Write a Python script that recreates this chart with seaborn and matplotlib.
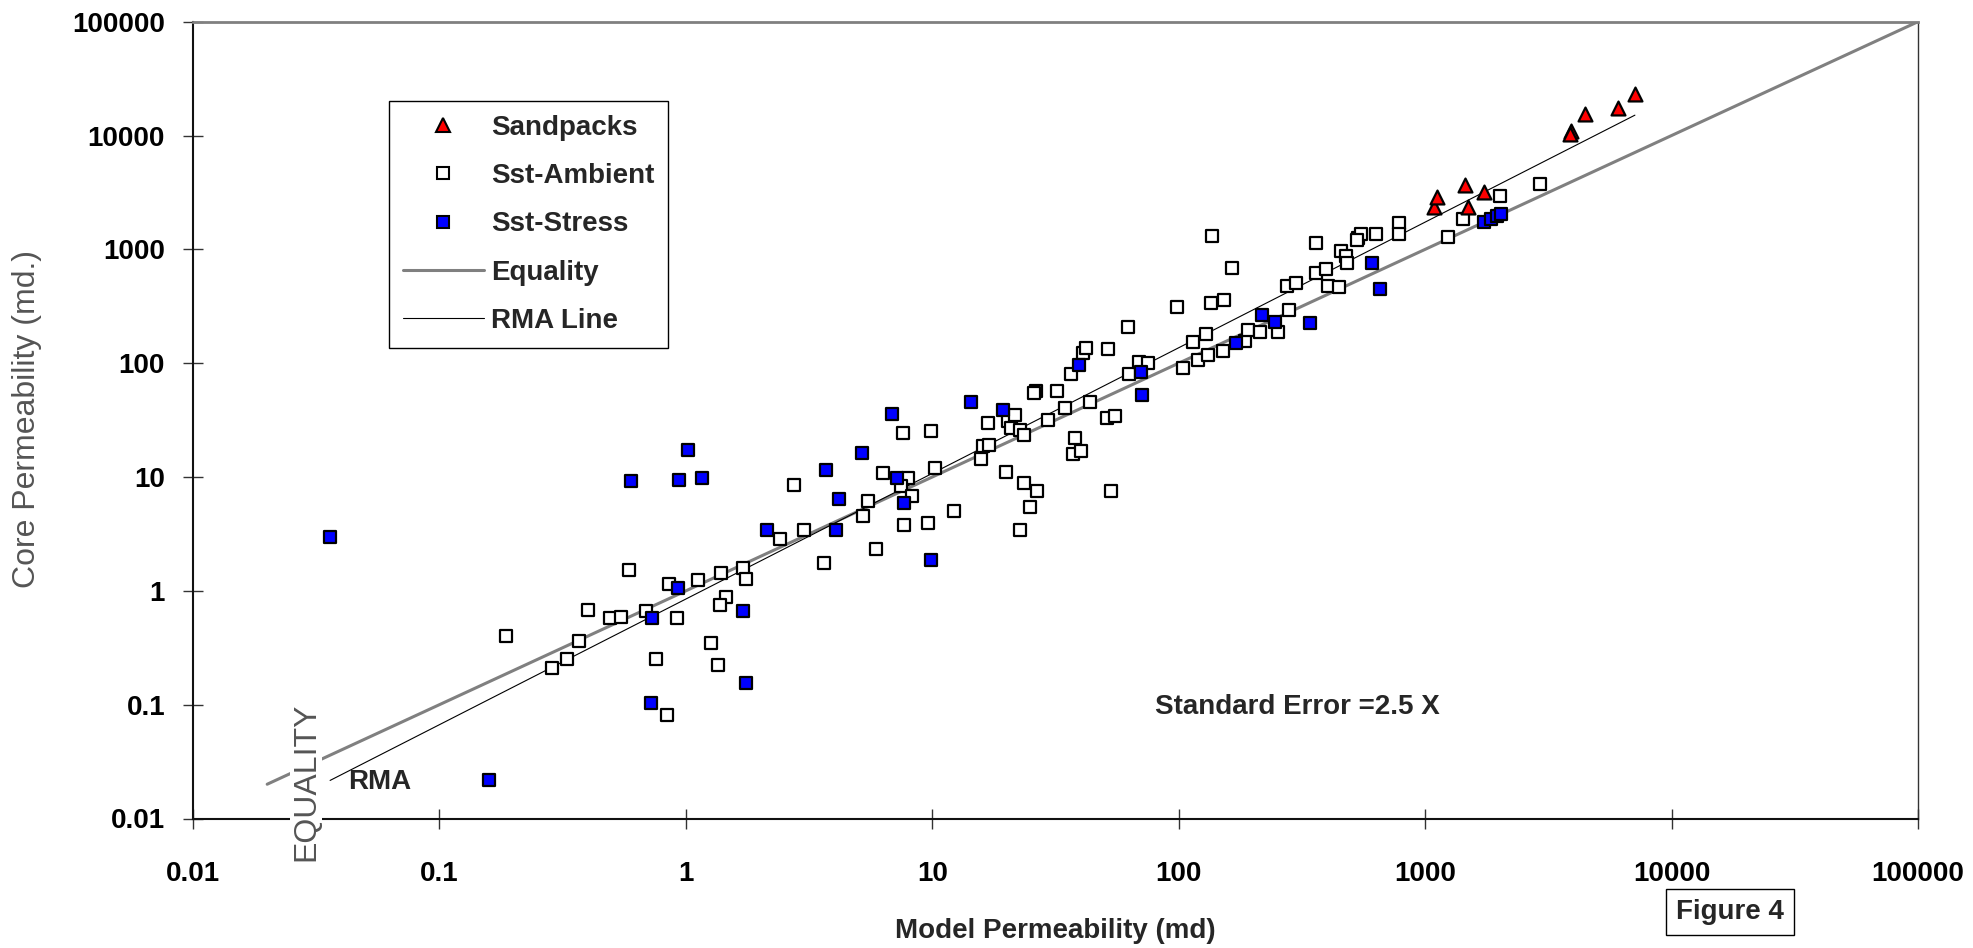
import numpy as np
import pandas as pd
import matplotlib
matplotlib.use("Agg")
import matplotlib.pyplot as plt
import seaborn as sns
from matplotlib.lines import Line2D
from matplotlib.ticker import FixedLocator, FixedFormatter, NullLocator

# ---------------- data ----------------
sandpacks_model = [1084, 1112, 1452, 1486, 1730, 3900, 3880, 4470, 6040, 7100]
sandpacks_core = [2375, 2900, 3680, 2375, 3210, 11000, 10400, 15400, 17400, 23000]

ambient_model = [
    0.187, 0.59, 0.40, 0.37, 0.328, 0.286, 0.49, 0.546, 0.687, 0.853, 0.92, 0.76, 0.836, 1.12,
    1.70, 1.75, 1.39, 1.45, 1.37, 1.27, 1.35,
    2.42, 3.03, 2.75, 3.64, 5.9, 5.24, 5.47, 6.33, 8.0, 7.5, 8.3, 7.7, 9.6, 12.2, 10.25, 7.64, 9.87,
    16.1, 17.0, 15.8, 16.9, 20.2, 21.6, 20.9, 22.6, 23.5, 19.9, 23.5, 26.7, 24.9, 22.6, 29.4, 34.7,
    43.8, 53.3, 37.9, 37.1, 40.3, 51.4, 55.1,
    26.3, 25.9, 32.1, 36.4, 40.9, 42.1, 51.6, 62.4, 63, 68.8, 75, 104, 114, 129, 120, 131, 151,
    185, 191, 213, 253, 281, 275, 300, 362, 362, 395, 403, 447, 457, 479, 480, 533, 551, 630,
    780, 780, 98, 136, 164, 135, 152,
    2930, 2009, 1422, 1240, 528,
]
ambient_core = [
    0.40, 1.51, 0.68, 0.366, 0.251, 0.209, 0.58, 0.59, 0.67, 1.14, 0.58, 0.253, 0.081, 1.24,
    1.58, 1.26, 1.43, 0.89, 0.75, 0.345, 0.223,
    2.85, 3.45, 8.5, 1.74, 2.34, 4.52, 6.15, 10.9, 9.8, 8.3, 6.8, 3.8, 3.94, 5.0, 12.1, 24.5, 25.4,
    18.6, 19.2, 14.3, 29.7, 31.3, 35.4, 27.0, 26.1, 23.5, 11.0, 8.9, 7.6, 5.45, 3.4, 31.6, 40.6,
    45.5, 7.6, 21.8, 15.9, 16.8, 32.7, 34.6,
    56.8, 54.5, 56.8, 81, 122, 137, 133, 210, 80, 102, 101, 91, 153, 182, 106, 117, 128,
    156, 195, 187, 187, 292, 475, 509, 1140, 624, 667, 475, 470, 966, 873, 753, 1268, 1355, 1355,
    1694, 1355, 313, 1309, 690, 340, 356,
    3730, 2944, 1862, 1277, 1220,
]

stress_model = [0.036, 0.159, 0.60, 0.94, 1.02, 1.16, 0.93, 0.73, 0.725, 1.70, 1.75, 2.14, 4.06,
                4.18, 3.69, 5.18, 6.85, 7.2, 7.69, 9.86, 14.4, 19.4, 39.3, 70.1, 71, 170, 217,
                247, 340, 608, 654, 1738, 1858, 1950, 2040]
stress_core = [3.0, 0.0218, 9.2, 9.5, 17.4, 9.9, 1.06, 0.58, 0.104, 0.66, 0.156, 3.40, 3.40,
               6.41, 11.6, 16.1, 36.1, 9.82, 5.91, 1.85, 45.4, 39.0, 96, 84, 52.5, 151, 264,
               231, 226, 753, 445, 1750, 1862, 1963, 2033]

equality_x = [0.02, 100000]
equality_y = [0.02, 100000]
rma_x = [0.036, 7100]
rma_y = [0.0216, 15100]

tick_values = [0.01, 0.1, 1, 10, 100, 1000, 10000, 100000]
tick_labels = ["0.01", "0.1", "1", "10", "100", "1000", "10000", "100000"]
series_names = ["Sandpacks", "Sst-Ambient", "Sst-Stress", "Equality", "RMA Line"]

# ---------------- style ----------------
sns.set_style("white")
plt.rcParams['font.family'] = ['Liberation Sans', 'DejaVu Sans']

W, H = 1974, 948
fig = plt.figure(figsize=(W / 100, H / 100), dpi=100)
ax = fig.add_axes([193 / W, (H - 818.5) / H, (1918 - 193) / W, (818.5 - 21.7) / H])
ax.set_xscale('log')
ax.set_yscale('log')

BOLD = 20

# lines
sns.lineplot(x=equality_x, y=equality_y, ax=ax, color='#808080', linewidth=2.2,
             sort=False, legend=False, zorder=1)
sns.lineplot(x=rma_x, y=rma_y, ax=ax, color='black', linewidth=0.8,
             sort=False, legend=False, zorder=1)

# points
amb = pd.DataFrame({"model": ambient_model, "core": ambient_core})
stp = pd.DataFrame({"model": stress_model, "core": stress_core})
snd = pd.DataFrame({"model": sandpacks_model, "core": sandpacks_core})

sns.scatterplot(data=amb, x="model", y="core", ax=ax, marker='s', s=80, color='white',
                edgecolor='black', linewidth=1.6, legend=False, zorder=2)
sns.scatterplot(data=stp, x="model", y="core", ax=ax, marker='s', s=80, color='#0000FF',
                edgecolor='black', linewidth=1.6, legend=False, zorder=3)
sns.scatterplot(data=snd, x="model", y="core", ax=ax, marker='^', s=100, color='#FF0000',
                edgecolor='black', linewidth=1.6, legend=False, zorder=4)

ax.set_xlim(0.01, 100000)
ax.set_ylim(0.01, 100000)
ax.set_xlabel("")
ax.set_ylabel("")

for axis in (ax.xaxis, ax.yaxis):
    axis.set_major_locator(FixedLocator(tick_values))
    axis.set_major_formatter(FixedFormatter(tick_labels))
    axis.set_minor_locator(NullLocator())

ax.tick_params(axis='both', which='major', direction='inout', length=13.7, width=1,
               color='#333333', labelsize=BOLD, labelcolor='black')
ax.tick_params(axis='x', pad=23.5, bottom=True)
ax.tick_params(axis='y', pad=13.3, left=True)
for lab in ax.get_xticklabels() + ax.get_yticklabels():
    lab.set_fontweight('bold')

ax.spines['top'].set_color('#808080')
ax.spines['top'].set_linewidth(2)
ax.spines['right'].set_color('#333333')
ax.spines['right'].set_linewidth(1)
for s in ('left', 'bottom'):
    ax.spines[s].set_color('#111111')
    ax.spines[s].set_linewidth(1.5)

# legend
handles = [
    Line2D([], [], marker='^', ls='none', ms=10, mfc='#FF0000', mec='black', mew=1.5),
    Line2D([], [], marker='s', ls='none', ms=8.8, mfc='white', mec='black', mew=1.5),
    Line2D([], [], marker='s', ls='none', ms=8.8, mfc='#0000FF', mec='black', mew=1.5),
    Line2D([], [], color='#808080', lw=2.2),
    Line2D([], [], color='black', lw=0.8),
]
leg = ax.legend(handles, series_names, loc='upper left',
                bbox_to_anchor=(389 / W, 1 - 101 / H), bbox_transform=fig.transFigure,
                prop={'weight': 'bold', 'size': BOLD}, frameon=True, fancybox=False,
                edgecolor='black', framealpha=1, borderpad=0.5, labelspacing=0.8,
                handlelength=2.91, handletextpad=0.27, borderaxespad=0)
leg.get_frame().set_linewidth(1.0)

# texts
fig.text(1055 / W, 1 - 931 / H, "Model Permeability (md)", ha='center', va='center',
         fontsize=BOLD, fontweight='bold')
fig.text(27 / W, 1 - 419 / H, "Core Permeability (md.)", rotation=90, ha='center',
         va='center', fontsize=23, color='#555555')
fig.text(1155 / W, 1 - 707 / H, "Standard Error =2.5 X", ha='left', va='center',
         fontsize=BOLD, fontweight='bold')
fig.text(348 / W, 1 - 782 / H, "RMA", ha='left', va='center', fontsize=BOLD,
         fontweight='bold')
fig.text(306 / W, 1 - 782 / H, "EQUALITY", rotation=90, ha='center', va='center',
         fontsize=23, color='#555555', zorder=10,
         bbox=dict(facecolor='white', edgecolor='none', pad=1))
fig.text(1730 / W, 1 - 912 / H, "Figure 4", ha='center', va='center', fontsize=BOLD,
         fontweight='bold',
         bbox=dict(boxstyle='square,pad=0.35', facecolor='white', edgecolor='black', lw=1))

fig.savefig("out.png", dpi=100)
